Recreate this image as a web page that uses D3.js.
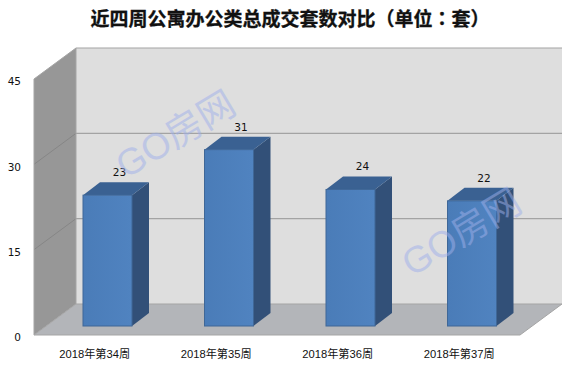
<!DOCTYPE html>
<html>
<head>
<meta charset="utf-8">
<script src="https://cdn.jsdelivr.net/npm/d3@7"></script>
<style>
  html, body { margin: 0; padding: 0; background: #fff; }
  svg { display: block; }
  text { fill: #111; }
</style>
</head>
<body>
<div id="chart"></div>
<script>
const titleMain = '近四周公寓办公类总成交套数对比';
const titleUnit = '（单位：套）';
const weeks = ['2018年第34周', '2018年第35周', '2018年第36周', '2018年第37周'];
const totals = [23, 31, 24, 22];
const yTicks = [0, 15, 30, 45];
const watermarkText = 'GO房网';

const width = 576, height = 370;

// front plane of the box
const boxLeft = 34, boxRight = 520, boxBottom = 335, boxTop = 79;
// how far the back wall sits from the front plane
const depthX = 42, depthY = -31;
// bars stand part way in and have their own depth
const barInsetX = 12.75, barInsetY = -9, barDepthX = 17, barDepthY = -13;

const x = d3.scaleBand().domain(weeks).range([boxLeft, boxRight]).paddingInner(0).paddingOuter(0);
const y = d3.scaleLinear().domain([0, 45]).range([boxBottom, boxTop]);
const barWidth = 49;

const svg = d3.select('#chart').append('svg')
  .attr('width', width)
  .attr('height', height);

const poly = pts => pts.map(p => p.join(',')).join(' ');

const defs = svg.append('defs');
const grad = defs.append('linearGradient').attr('id', 'barFront')
  .attr('x1', 0).attr('y1', 0).attr('x2', 1).attr('y2', 0);
grad.append('stop').attr('offset', 0).attr('stop-color', '#4a7cb8');
grad.append('stop').attr('offset', 1).attr('stop-color', '#5083c0');

// back wall
svg.append('rect')
  .attr('x', boxLeft + depthX).attr('y', boxTop + depthY)
  .attr('width', boxRight - boxLeft).attr('height', boxBottom - boxTop)
  .attr('fill', '#dedede');

// left wall
svg.append('polygon')
  .attr('points', poly([[boxLeft, boxTop], [boxLeft + depthX, boxTop + depthY], [boxLeft + depthX, boxBottom + depthY], [boxLeft, boxBottom]]))
  .attr('fill', '#979797');

// floor
svg.append('polygon')
  .attr('points', poly([[boxLeft, boxBottom], [boxLeft + depthX, boxBottom + depthY], [boxRight + depthX, boxBottom + depthY], [boxRight, boxBottom]]))
  .attr('fill', '#b3b5b9');

// gridlines on the walls
const grid = svg.append('g').attr('fill', 'none');
grid.selectAll('.back')
  .data(yTicks.filter(d => d > 0))
  .join('line')
  .attr('class', 'back')
  .attr('x1', boxLeft + depthX).attr('x2', boxRight + depthX)
  .attr('y1', d => y(d) + depthY).attr('y2', d => y(d) + depthY)
  .attr('stroke', '#a3a3a3')
  .attr('stroke-width', 1.2);
grid.selectAll('.side')
  .data(yTicks.filter(d => d > 0 && d < 45))
  .join('line')
  .attr('class', 'side')
  .attr('x1', boxLeft).attr('x2', boxLeft + depthX)
  .attr('y1', d => y(d)).attr('y2', d => y(d) + depthY)
  .attr('stroke', '#868686');

// box edges
svg.append('path')
  .attr('d', `M${boxLeft},${boxBottom}V${boxTop}L${boxLeft + depthX},${boxTop + depthY}V${boxBottom + depthY}L${boxLeft},${boxBottom}H${boxRight}L${boxRight + depthX},${boxBottom + depthY}H${boxLeft + depthX}`)
  .attr('fill', 'none')
  .attr('stroke', '#a5a5a5')
  .attr('stroke-width', 1);

// bars
const barLeft = d => x(d) + (x.bandwidth() - barWidth) / 2 + barInsetX;
const barBase = boxBottom + barInsetY;
const barTop = v => barBase - (y(0) - y(v));

const bars = svg.append('g').selectAll('g')
  .data(weeks.map((w, i) => ({ week: w, value: totals[i] })))
  .join('g');

bars.append('polygon') // side
  .attr('points', d => {
    const x1 = barLeft(d.week) + barWidth, t = barTop(d.value);
    return poly([[x1, t], [x1 + barDepthX, t + barDepthY], [x1 + barDepthX, barBase + barDepthY], [x1, barBase]]);
  })
  .attr('fill', '#325078');

bars.append('polygon') // top
  .attr('points', d => {
    const x0 = barLeft(d.week), t = barTop(d.value);
    return poly([[x0, t], [x0 + barDepthX, t + barDepthY], [x0 + barWidth + barDepthX, t + barDepthY], [x0 + barWidth, t]]);
  })
  .attr('fill', '#3a6192');

bars.append('rect') // front
  .attr('x', d => barLeft(d.week))
  .attr('y', d => barTop(d.value))
  .attr('width', barWidth)
  .attr('height', d => barBase - barTop(d.value))
  .attr('fill', 'url(#barFront)')
  .attr('stroke', '#3f6797')
  .attr('stroke-width', 1);

bars.append('text')
  .attr('x', d => barLeft(d.week) + barWidth / 2 + 12)
  .attr('y', d => barTop(d.value) - 19)
  .attr('text-anchor', 'middle')
  .style('font-family', '"DejaVu Sans", sans-serif')
  .style('font-size', '10.5px')
  .text(d => d.value);

// watermarks sit on top of everything, the bars show through
const marks = svg.append('g')
  .style('font-family', '"Liberation Sans", "Noto Sans CJK SC", sans-serif')
  .style('font-size', '37px');
marks.selectAll('text')
  .data([[177, 137], [463, 235]])
  .join('text')
  .attr('transform', d => `translate(${d[0]},${d[1]}) rotate(-31)`)
  .attr('text-anchor', 'middle')
  .attr('dominant-baseline', 'middle')
  .style('fill', '#9fb0ea')
  .attr('opacity', 0.5)
  .text(watermarkText);

// axes, text only
const yAxis = svg.append('g')
  .attr('transform', `translate(${boxLeft},0)`)
  .call(d3.axisLeft(y).tickValues(yTicks).tickSize(0).tickPadding(13));
yAxis.select('.domain').remove();
yAxis.selectAll('text')
  .attr('dy', '0.55em')
  .style('font-family', '"DejaVu Sans", sans-serif')
  .style('font-size', '10.5px')
  .style('fill', '#111');

const xAxis = svg.append('g')
  .attr('transform', `translate(0,${boxBottom})`)
  .call(d3.axisBottom(x).tickSize(0).tickPadding(15));
xAxis.select('.domain').remove();
xAxis.selectAll('text')
  .style('font-family', '"Liberation Sans", "Noto Sans CJK SC", sans-serif')
  .style('font-size', '11.2px')
  .style('fill', '#111');

// title, TC font for the unit part because its punctuation sits centred in the cell
const title = svg.append('text')
  .attr('x', 290)
  .attr('y', 26)
  .attr('text-anchor', 'middle')
  .style('font-family', '"Noto Sans CJK SC", sans-serif')
  .style('font-size', '19px')
  .style('font-weight', 700)
  .style('stroke', '#111')
  .style('stroke-width', 0.3);
title.append('tspan').text(titleMain);
title.append('tspan').style('font-family', '"Noto Sans CJK TC", sans-serif').text(titleUnit);
</script>
</body>
</html>
